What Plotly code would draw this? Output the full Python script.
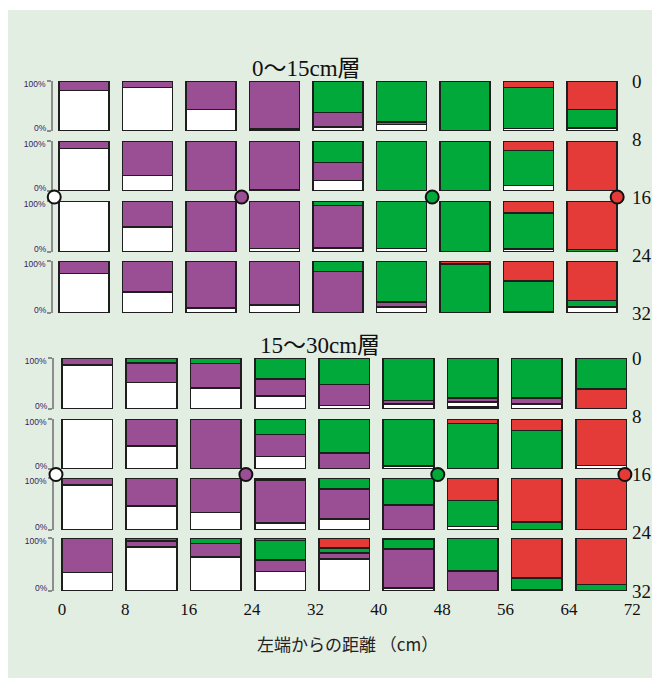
import plotly.graph_objects as go

# ---------------- data ----------------
distances = [0, 8, 16, 24, 32, 40, 48, 56, 64]          # left edge of each 8 cm cell
x_tick_vals = [0, 8, 16, 24, 32, 40, 48, 56, 64, 72]
depth_ticks = [0, 8, 16, 24, 32]
panel_titles = ["0～15cm層", "15～30cm層"]
x_title = "左端からの距離 （cm）"

# 0~15cm layer: rows = depth 0-8, 8-16, 16-24, 24-32 ; values in %
top_white = [[81, 87, 43, 4, 8, 13, 1, 5, 6],
             [85, 31, 0, 3, 21, 0, 0, 11, 0],
             [100, 49, 0, 7, 8, 7, 1, 6, 0],
             [76, 40, 10, 15, 0, 11, 0, 2, 11]]
top_purple = [[19, 13, 57, 96, 29, 5, 0, 0, 0],
              [15, 69, 100, 97, 36, 0, 0, 0, 0],
              [0, 51, 100, 93, 83, 0, 0, 0, 0],
              [24, 60, 90, 85, 80, 10, 0, 0, 0]]
top_green = [[0, 0, 0, 0, 63, 82, 99, 82, 37],
             [0, 0, 0, 0, 43, 100, 100, 70, 0],
             [0, 0, 0, 0, 9, 93, 99, 71, 5],
             [0, 0, 0, 0, 20, 79, 94, 60, 13]]
top_red = [[0, 0, 0, 0, 0, 0, 0, 13, 57],
           [0, 0, 0, 0, 0, 0, 0, 19, 100],
           [0, 0, 0, 0, 0, 0, 0, 23, 95],
           [0, 0, 0, 0, 0, 0, 6, 38, 76]]
top_red_low = [[0] * 9, [0] * 9, [0] * 9, [0] * 9]

# 15~30cm layer
bot_red_low = [[0, 0, 0, 0, 0, 0, 4, 0, 39],
               [0] * 9, [0] * 9, [0] * 9]
bot_white = [[86, 52, 41, 26, 7, 10, 10, 10, 0],
             [100, 46, 0, 25, 0, 6, 0, 0, 7],
             [87, 46, 34, 13, 21, 0, 7, 0, 0],
             [35, 83, 64, 37, 60, 6, 0, 0, 0]]
bot_purple = [[14, 38, 48, 33, 41, 7, 8, 12, 0],
              [0, 54, 100, 44, 32, 0, 0, 0, 0],
              [13, 54, 66, 83, 58, 48, 0, 0, 0],
              [65, 11, 26, 22, 12, 73, 38, 3, 0]]
bot_green = [[0, 10, 11, 41, 52, 83, 78, 78, 61],
             [0, 0, 0, 31, 68, 94, 91, 77, 0],
             [0, 0, 0, 4, 21, 52, 50, 15, 0],
             [0, 6, 10, 36, 9, 18, 62, 22, 12]]
bot_red = [[0, 0, 0, 0, 0, 0, 0, 0, 0],
           [0, 0, 0, 0, 0, 0, 9, 23, 93],
           [0, 0, 0, 0, 0, 0, 43, 85, 100],
           [0, 0, 0, 5, 19, 3, 0, 75, 88]]

# boundary markers at 16 cm depth
circle_x_top = [-0.6, 23, 47, 70.3]
circle_x_bot = [-0.75, 22.9, 46.8, 70.1]
circle_depth = 16

# ---------------- style / layout ----------------
W, H = 660, 680
OFF = 8   # page body margin compensation (px)
C_WHITE, C_PURPLE, C_GREEN, C_RED = "#FFFFFF", "#9A4E93", "#00A93A", "#E43B38"
OUTLINE = "#1e1e1e"
BG = "#E3EEE2"
BAR_W = 6.3
XR = [-2, 74]
YTICK_FONT = dict(family="Liberation Sans, Arial", size=8.5, color="#33245f")


def fx(px):
    return (px - OFF) / W


def fy(px):
    return 1 - (px - OFF) / H


def xdom(x0_px, unit_px):
    return [fx(x0_px + XR[0] * unit_px), fx(x0_px + XR[1] * unit_px)]


def ydom(top_px, bot_px):
    return [fy(bot_px), fy(top_px)]


top_rows_px = [(81, 131), (141, 191), (201, 252), (261, 313)]
bot_rows_px = [(358, 409), (419, 469), (478, 530), (538, 591)]
top_xdom = xdom(59, 7.94)
bot_xdom = xdom(62, 8.03)
tick_xdom = xdom(62, 7.92)

fig = go.Figure()
layout = {}


def aid(k):
    return "" if k == 1 else str(k)


panels = [
    (top_rows_px, top_xdom, 52, [top_red_low, top_white, top_purple, top_green, top_red]),
    (bot_rows_px, bot_xdom, 53, [bot_red_low, bot_white, bot_purple, bot_green, bot_red]),
]
colors = [C_RED, C_WHITE, C_PURPLE, C_GREEN, C_RED]

k = 0
for rows_px, xd, yline_px, series in panels:
    for r, (t, b) in enumerate(rows_px):
        k += 1
        s = aid(k)
        for vals, col in zip(series, colors):
            row_vals = vals[r]
            if not any(v > 0 for v in row_vals):
                continue
            fig.add_trace(go.Bar(
                x=distances, y=row_vals, width=BAR_W, offset=0,
                marker=dict(color=col, line=dict(color=OUTLINE, width=1.6)),
                xaxis="x" + s, yaxis="y" + s, showlegend=False, hoverinfo="skip"))
        layout["xaxis" + s] = dict(domain=xd, range=XR, visible=False,
                                   anchor="y" + s, fixedrange=True, automargin=False)
        # main axis: bracket line, both ticks, "100%" label nudged down a little
        layout["yaxis" + s] = dict(
            domain=ydom(t, b), range=[0, 100], anchor="free", position=fx(yline_px),
            tickvals=[0, 100], ticktext=["", "100%"], ticklabelshift=3,
            showline=True, linecolor="#8c8c8c", linewidth=1.5,
            ticks="outside", ticklen=4, tickwidth=1.5, tickcolor="#8c8c8c",
            tickfont=YTICK_FONT, showgrid=False, zeroline=False,
            fixedrange=True, automargin=False)
        # overlay axis: "0%" label nudged up a little
        o = str(20 + k)
        fig.add_trace(go.Scatter(x=[None], y=[None], mode="markers",
                                 xaxis="x" + s, yaxis="y" + o,
                                 showlegend=False, hoverinfo="skip"))
        layout["yaxis" + o] = dict(
            overlaying="y" + s, range=[0, 100], anchor="free", position=fx(yline_px),
            tickvals=[0], ticktext=["0%"], ticklabelshift=-3,
            ticks="outside", ticklen=4, tickwidth=1.5, tickcolor="rgba(0,0,0,0)",
            showline=False, tickfont=YTICK_FONT, showgrid=False, zeroline=False,
            fixedrange=True, automargin=False)

# depth axes with circles (9 = top panel, 10 = bottom panel)
circle_cols = [C_WHITE, C_PURPLE, C_GREEN, C_RED]
for kk, rows_px, xd, cx in [(9, top_rows_px, top_xdom, circle_x_top),
                            (10, bot_rows_px, bot_xdom, circle_x_bot)]:
    s = str(kk)
    fig.add_trace(go.Scatter(
        x=cx, y=[circle_depth] * len(cx), mode="markers", cliponaxis=False,
        marker=dict(size=13, color=circle_cols, line=dict(color="#111", width=2)),
        xaxis="x" + s, yaxis="y" + s, showlegend=False, hoverinfo="skip"))
    layout["xaxis" + s] = dict(domain=xd, range=XR, visible=False,
                               anchor="y" + s, fixedrange=True, automargin=False)
    layout["yaxis" + s] = dict(
        domain=ydom(rows_px[0][0], rows_px[-1][1]), range=[32, 0],
        anchor="free", position=fx(631), side="right",
        tickvals=depth_ticks, ticks="", showline=False, showgrid=False,
        zeroline=False, fixedrange=True, automargin=False,
        tickfont=dict(family="Liberation Serif, Times New Roman", size=19, color="#111"))

# bottom distance tick axis
fig.add_trace(go.Scatter(x=[0], y=[0], mode="markers", marker=dict(opacity=0),
                         xaxis="x11", yaxis="y8", showlegend=False, hoverinfo="skip"))
layout["xaxis11"] = dict(domain=tick_xdom, range=XR, anchor="y8", tickvals=x_tick_vals,
                         ticks="", showline=False, showgrid=False, zeroline=False,
                         ticklabelstandoff=6, fixedrange=True, automargin=False,
                         tickfont=dict(family="Liberation Serif, Times New Roman",
                                       size=17, color="#111"))

annotations = [
    dict(text=panel_titles[0], x=fx(306), y=fy(68), xref="paper", yref="paper",
         showarrow=False, xanchor="center", yanchor="middle",
         font=dict(family="Liberation Serif, Noto Sans CJK JP", size=23, color="#111")),
    dict(text=panel_titles[1], x=fx(320), y=fy(345), xref="paper", yref="paper",
         showarrow=False, xanchor="center", yanchor="middle",
         font=dict(family="Liberation Serif, Noto Sans CJK JP", size=23, color="#111")),
    dict(text=x_title, x=fx(347), y=fy(643), xref="paper", yref="paper",
         showarrow=False, xanchor="center", yanchor="middle",
         font=dict(family="Noto Sans CJK JP", size=17, color="#222")),
]

fig.update_layout(
    width=W, height=H, margin=dict(l=0, r=0, t=0, b=0, pad=0, autoexpand=False),
    paper_bgcolor="white", plot_bgcolor="rgba(0,0,0,0)",
    barmode="stack", showlegend=False, annotations=annotations,
    shapes=[dict(type="rect", xref="paper", yref="paper", x0=fx(7), x1=fx(655),
                 y0=fy(678), y1=fy(10), fillcolor=BG, line=dict(width=0),
                 layer="below")],
    **layout)

fig.write_html("out.html", config={"displayModeBar": False})
